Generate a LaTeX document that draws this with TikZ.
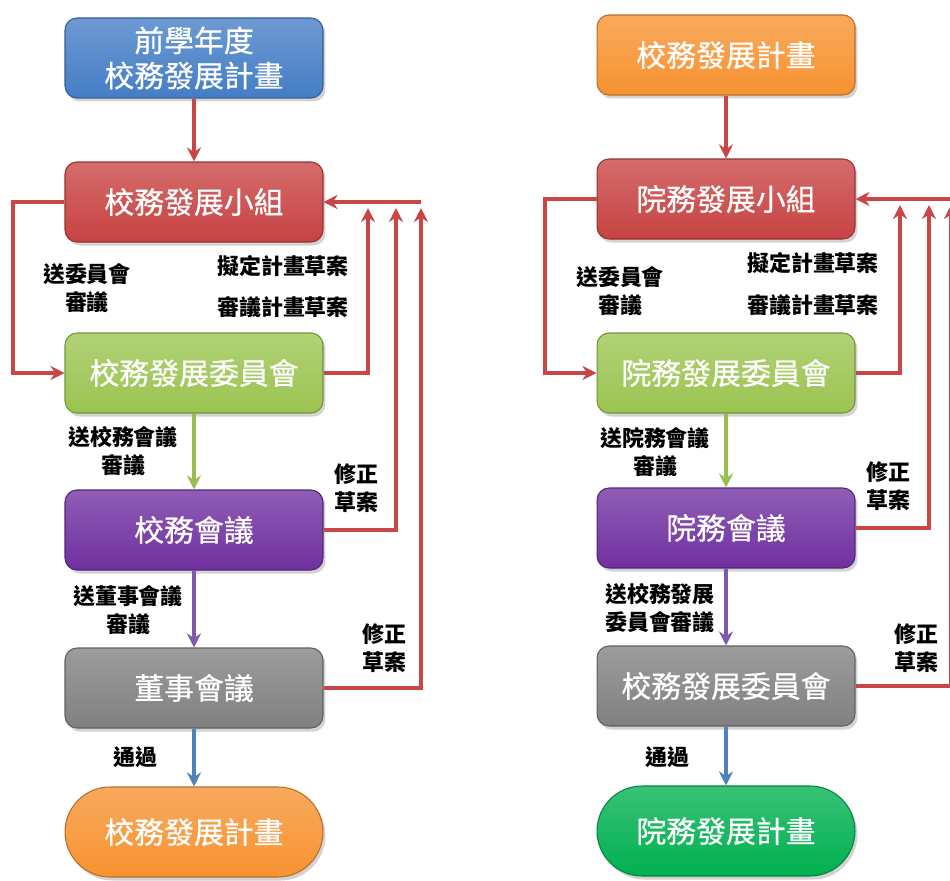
\documentclass[tikz,border=0pt]{standalone}
\usepackage{fontspec}
\setmainfont{Noto Sans CJK TC}
\newfontfamily\boxfont{Noto Sans CJK TC}[FakeBold=0.6]
\usepackage{tikz}
\usetikzlibrary{arrows.meta}
\usetikzlibrary{shadows}

\definecolor{boxblue}{RGB}{68,125,198}
\definecolor{boxred}{RGB}{200,66,66}
\definecolor{boxgreen}{RGB}{155,196,80}
\definecolor{boxpurple}{RGB}{112,48,160}
\definecolor{boxgray}{RGB}{128,128,128}
\definecolor{boxorange}{RGB}{247,146,48}
\definecolor{boxemerald}{RGB}{0,176,80}
\definecolor{lnred}{RGB}{200,70,70}
\definecolor{lngreen}{RGB}{155,190,80}
\definecolor{lnpurple}{RGB}{128,90,170}
\definecolor{lnblue}{RGB}{79,129,189}

\tikzset{
  stage/.style={rounded corners=0.24cm, minimum width=5.16cm, minimum height=1.6cm,
    text=white, font=\fontsize{17}{20}\selectfont\boxfont, align=center,
    draw=#1!75!black, line width=0.6pt, top color=#1!78!white, bottom color=#1,
    drop shadow={opacity=0.35, shadow xshift=0.05cm, shadow yshift=-0.07cm}},
  terminal/.style={stage=#1, rounded corners=0.9cm, minimum height=1.8cm},
  flow/.style={draw=#1, line width=1.9pt, arrows={-Stealth[width=8pt, length=8pt]}},
  note/.style={font=\fontsize{12.5}{16}\selectfont\bfseries, align=center}
}

\begin{document}
\begin{tikzpicture}[x=0.02cm, y=-0.02cm]
\useasboundingbox (0,0) rectangle (950,880);

\node[stage=boxblue] (prevplan) at (194,58) {前學年度\\校務發展計畫};
\node[stage=boxred] (group) at (194,202) {校務發展小組};
\node[stage=boxgreen] (committee) at (194,373) {校務發展委員會};
\node[stage=boxpurple] (council) at (194,530) {校務會議};
\node[stage=boxgray] (board) at (194,688) {董事會議};
\node[terminal=boxorange] (plan) at (194,832) {校務發展計畫};

\draw[flow=lnred] (prevplan) -- (group);
\draw[flow=lngreen] (committee) -- (council);
\draw[flow=lnpurple] (council) -- (board);
\draw[flow=lnblue] (board) -- (plan);

\coordinate (loop) at (13,202);
\draw[flow=lnred] (group.west) -- (loop) |- (committee.west);

\coordinate (retA) at (368,208);
\coordinate (retB) at (396,208);
\coordinate (retC) at (421,208);
\coordinate (retTop) at (421,202);
\draw[flow=lnred] (committee.east) -| (retA);
\draw[flow=lnred] (council.east) -| (retB);
\draw[flow=lnred] (board.east) -| (retC);
\draw[flow=lnred] (retTop) -- (group.east);

\node[note] (sendcmt) at (87,288) {送委員會\\審議};
\node[note] (draft) at (283,266) {擬定計畫草案};
\node[note] (review) at (283,307) {審議計畫草案};
\node[note] (sendcouncil) at (123,451) {送校務會議\\審議};
\node[note] (reviseA) at (356,488) {修正\\草案};
\node[note] (sendboard) at (128,610) {送董事會議\\審議};
\node[note] (reviseB) at (384,648) {修正\\草案};
\node[note] (pass) at (135,757) {通過};

\node[stage=boxorange] (rplan) at (726,55) {校務發展計畫};
\node[stage=boxred] (rgroup) at (726,199) {院務發展小組};
\node[stage=boxgreen] (rcommittee) at (726,373) {院務發展委員會};
\node[stage=boxpurple] (rcouncil) at (726,528) {院務會議};
\node[stage=boxgray] (rschool) at (726,686) {校務發展委員會};
\node[terminal=boxemerald] (rresult) at (726,831) {院務發展計畫};

\draw[flow=lnred] (rplan) -- (rgroup);
\draw[flow=lngreen] (rcommittee) -- (rcouncil);
\draw[flow=lnpurple] (rcouncil) -- (rschool);
\draw[flow=lnblue] (rschool) -- (rresult);

\coordinate (rloop) at (545,199);
\draw[flow=lnred] (rgroup.west) -- (rloop) |- (rcommittee.west);

\coordinate (rretA) at (900,205);
\coordinate (rretB) at (929,205);
\coordinate (rretC) at (951,205);
\coordinate (rretTop) at (960,199);
\draw[flow=lnred] (rcommittee.east) -| (rretA);
\draw[flow=lnred] (rcouncil.east) -| (rretB);
\draw[flow=lnred] (rschool.east) -| (rretC);
\draw[flow=lnred] (rretTop) -- (rgroup.east);

\node[note] (rsendcmt) at (620,291) {送委員會\\審議};
\node[note] (rdraft) at (813,263) {擬定計畫草案};
\node[note] (rreview) at (813,305) {審議計畫草案};
\node[note] (rsendcouncil) at (655,452) {送院務會議\\審議};
\node[note] (rreviseA) at (888,486) {修正\\草案};
\node[note] (rsendschool) at (660,608) {送校務發展\\委員會審議};
\node[note] (rreviseB) at (916,648) {修正\\草案};
\node[note] (rpass) at (667,757) {通過};
\end{tikzpicture}
\end{document}
